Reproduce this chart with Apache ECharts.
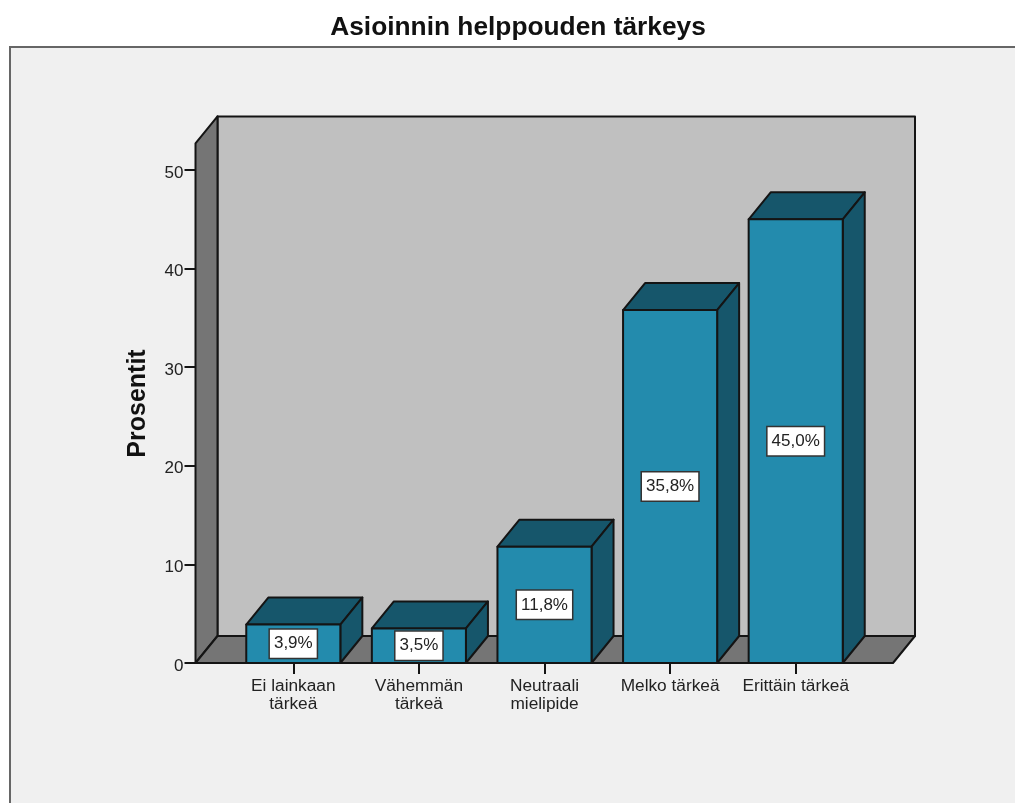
<!DOCTYPE html>
<html>
<head>
<meta charset="utf-8">
<style>html,body{margin:0;padding:0;background:#fff}#chart{width:1015px;height:803px}</style>
<script src="https://cdn.jsdelivr.net/npm/echarts@6/dist/echarts.min.js"></script>
</head>
<body>
<div id="chart"></div>
<script>
const categories = ['Ei lainkaan\ntärkeä', 'Vähemmän\ntärkeä', 'Neutraali\nmielipide', 'Melko tärkeä', 'Erittäin tärkeä'];
const percents = [3.9, 3.5, 11.8, 35.8, 45.0];
const wallTopValue = 52.7;

// Pseudo-3D look: every box is extruded up and to the right by this offset.
const DEPTH_X = 22;
const DEPTH_Y = 27;
const WALL_LEFT_PAD = 35;
const WALL_RIGHT_PAD = 34.5;
const BAR_RATIO = 0.749;
const INK = '#141414';

const poly = (points, fill) => ({
  type: 'polygon',
  shape: { points },
  style: { fill, stroke: INK, lineWidth: 2, lineJoin: 'round' }
});

// Back wall, side wall and floor of the plotting box.
function renderWalls(params, api) {
  const cs = params.coordSys;
  const left = cs.x - WALL_LEFT_PAD;
  const right = cs.x + cs.width + WALL_RIGHT_PAD;
  const base = api.coord([0, 0])[1];
  const top = api.coord([0, api.value(0)])[1];
  return {
    type: 'group',
    children: [
      poly([[left + DEPTH_X, top - DEPTH_Y], [right + DEPTH_X, top - DEPTH_Y], [right + DEPTH_X, base - DEPTH_Y], [left + DEPTH_X, base - DEPTH_Y]], '#c0c0c0'),
      poly([[left, top], [left + DEPTH_X, top - DEPTH_Y], [left + DEPTH_X, base - DEPTH_Y], [left, base]], '#757575'),
      poly([[left, base], [left + DEPTH_X, base - DEPTH_Y], [right + DEPTH_X, base - DEPTH_Y], [right, base]], '#757575')
    ]
  };
}

// One extruded bar with its boxed percentage label on the front face.
function renderBar(params, api) {
  const index = api.value(0);
  const value = api.value(1);
  const [cx, yTop] = api.coord([index, value]);
  const yBase = api.coord([index, 0])[1];
  const w = api.size([1, 0])[0] * BAR_RATIO;
  const x0 = cx - w / 2;
  const x1 = cx + w / 2;
  return {
    type: 'group',
    children: [
      poly([[x0, yTop], [x0 + DEPTH_X, yTop - DEPTH_Y], [x1 + DEPTH_X, yTop - DEPTH_Y], [x1, yTop]], '#16566b'),
      poly([[x1, yTop], [x1 + DEPTH_X, yTop - DEPTH_Y], [x1 + DEPTH_X, yBase - DEPTH_Y], [x1, yBase]], '#16566b'),
      poly([[x0, yTop], [x1, yTop], [x1, yBase], [x0, yBase]], '#238bad'),
      {
        type: 'text',
        x: cx,
        y: (yTop + yBase) / 2,
        style: {
          text: value.toFixed(1).replace('.', ',') + '%',
          fontFamily: 'Liberation Sans',
          fontSize: 17,
          fill: '#222',
          align: 'center',
          verticalAlign: 'middle',
          backgroundColor: '#fff',
          borderColor: '#333',
          borderWidth: 1.5,
          padding: [6, 4, 5, 4]
        }
      }
    ]
  };
}

const chart = echarts.init(document.getElementById('chart'), null, { renderer: 'canvas' });
chart.setOption({
  animation: false,
  backgroundColor: '#ffffff',
  title: {
    text: 'Asioinnin helppouden tärkeys',
    left: 513,
    top: 10,
    textAlign: 'center',
    textStyle: { fontFamily: 'Liberation Sans', fontWeight: 'bold', fontSize: 26.3, color: '#111' }
  },
  graphic: [{
    type: 'rect',
    z: -10,
    shape: { x: 10, y: 47, width: 1100, height: 900 },
    style: { fill: '#f0f0f0', stroke: '#666', lineWidth: 2 }
  }],
  grid: { left: 230.5, top: 170, width: 628, height: 493 },
  xAxis: {
    type: 'category',
    data: categories,
    axisLine: { show: false },
    axisTick: { show: true, alignWithLabel: true, length: 11, lineStyle: { color: INK, width: 2 } },
    axisLabel: { interval: 0, margin: 14, fontFamily: 'Liberation Sans', fontSize: 17.3, lineHeight: 18, color: '#222' }
  },
  yAxis: {
    type: 'value',
    min: 0,
    max: 50,
    interval: 10,
    offset: WALL_LEFT_PAD,
    name: 'Prosentit',
    nameLocation: 'middle',
    nameGap: 45,
    nameTextStyle: { fontFamily: 'Liberation Sans', fontWeight: 'bold', fontSize: 25, color: '#111', padding: [0, 0, 0, 26] },
    splitLine: { show: false },
    axisLine: { show: false },
    axisTick: { show: true, length: 11, lineStyle: { color: INK, width: 2 } },
    axisLabel: { margin: 12, fontFamily: 'Liberation Sans', fontSize: 17, color: '#222', verticalAlign: 'top', lineHeight: 6 }
  },
  series: [
    { type: 'custom', clip: false, z: 1, renderItem: renderWalls, encode: { x: 1, y: 0 }, data: [[wallTopValue, 0]], silent: true },
    { type: 'custom', clip: false, z: 2, renderItem: renderBar, encode: { x: 0, y: 1 }, data: percents.map((v, i) => [i, v]), silent: true }
  ]
});
</script>
</body>
</html>
